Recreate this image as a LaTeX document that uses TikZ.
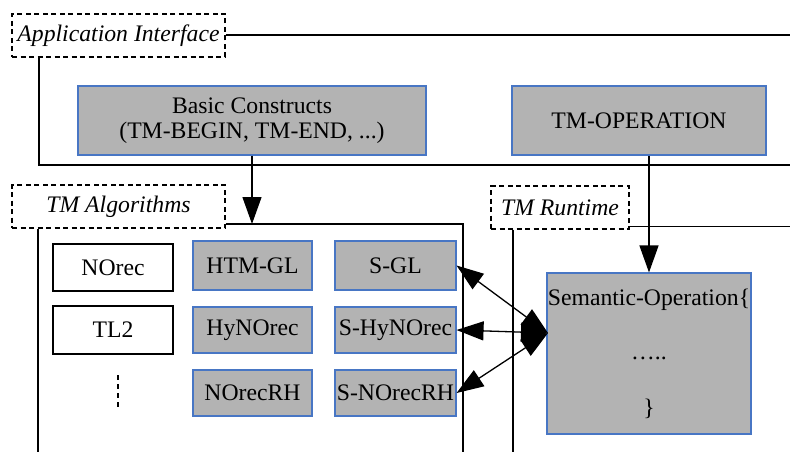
\documentclass[tikz,border=0pt]{standalone}
\usepackage{fontspec}
\setmainfont{Liberation Serif}
\usetikzlibrary{arrows.meta}
\definecolor{boxgray}{RGB}{179,179,179}
\definecolor{boxblue}{RGB}{72,118,196}
\newcommand{\diagfont}{\fontsize{23.7}{25}\selectfont}
\tikzset{
  frame/.style={line width=1.3pt, black},
  layer/.style={draw=black, line width=1.3pt, dash pattern=on 5pt off 3.5pt,
    fill=white, inner sep=0pt, font=\diagfont\itshape},
  comp/.style={draw=boxblue, line width=1.1pt, fill=boxgray, inner sep=0pt, align=center},
  algo/.style={draw=black, line width=1.3pt, fill=white, inner sep=0pt},
  arr/.style={line width=1.3pt, -{Triangle[length=27pt,width=19pt]}},
  darr/.style={line width=1.3pt, {Triangle[length=27pt,width=19pt]}-{Triangle[length=27pt,width=19pt]}},
}
\begin{document}
\begin{tikzpicture}[x=1pt, y=-1pt, font=\diagfont]
\useasboundingbox (0,0) rectangle (790,452);

% layer labels
\node[layer, minimum width=213pt, minimum height=43pt] (appif) at (118.5,35.5) {Application Interface};
\node[layer, minimum width=213pt, minimum height=43pt] (tmalg) at (118.5,206.5) {TM Algorithms};
\node[layer, minimum width=138pt, minimum height=43pt] (tmrt) at (560,207.5) {TM Runtime};

% frame corners
\coordinate (aiR) at (790,35);
\coordinate (aiL) at (39,165);
\coordinate (aiLR) at (790,165);
\coordinate (algTR) at (463,224);
\coordinate (algBR) at (463,452);
\coordinate (algBL) at (38,452);
\coordinate (rtTR) at (790,226.5);
\coordinate (rtBL) at (513,452);

% layer frames
\draw[frame] (appif.east |- aiR) -- (aiR);
\draw[frame] (appif.south -| aiL) -- (aiL) -- (aiLR);
\draw[frame] (tmalg.east |- algTR) -- (algTR) -- (algBR);
\draw[frame] (tmalg.south -| algBL) -- (algBL);
\draw[frame] (tmrt.east |- rtTR) -- (rtTR);
\draw[frame] (tmrt.south -| rtBL) -- (rtBL);

% interface components
\node[comp, minimum width=348pt, minimum height=69pt] (basic) at (252,120.5)
  {Basic Constructs\\(TM-BEGIN, TM-END, ...)};
\node[comp, minimum width=254pt, minimum height=69pt] (tmop) at (639,120.5) {TM-OPERATION};

% algorithms
\node[algo, minimum width=120pt, minimum height=47pt] (norec) at (113,267.5) {NOrec};
\node[algo, minimum width=120pt, minimum height=48pt] (tl2) at (113,330) {TL2};
\coordinate (dotsTop) at (118,375);
\coordinate (dotsBot) at (118,409);
\draw[line width=2.2pt, dash pattern=on 5pt off 4pt] (dotsTop) -- (dotsBot);

\node[comp, minimum width=119pt, minimum height=49pt] (htmgl) at (252.5,265.5) {HTM-GL};
\node[comp, minimum width=119pt, minimum height=46pt] (hynorec) at (252.5,330) {HyNOrec};
\node[comp, minimum width=119pt, minimum height=46pt] (norecrh) at (252.5,393) {NOrecRH};
\node[comp, minimum width=121pt, minimum height=49pt] (sgl) at (395.5,265.5) {S-GL};
\node[comp, minimum width=121pt, minimum height=46pt] (shynorec) at (395.5,330) {S-HyNOrec};
\node[comp, minimum width=121pt, minimum height=46pt] (snorecrh) at (395.5,393) {S-NOrecRH};

% runtime
\node[comp, minimum width=204pt, minimum height=161pt] (sem) at (649,353.5) {};
\node[inner sep=0pt] (semA) at (649,300) {Semantic-Operation\{};
\node[inner sep=0pt] (semB) at (649,358) {…..};
\node[inner sep=0pt] (semC) at (649,409) {\}};
\coordinate (semIn) at (548,333);

% connectors
\draw[arr] (basic.south) -- (basic.south |- algTR);
\draw[arr] (tmop.south -| sem.north) -- (sem.north);
\draw[darr] (sgl.east) -- (semIn);
\draw[darr] (shynorec.east) -- (semIn);
\draw[darr] (snorecrh.east) -- (semIn);
\end{tikzpicture}
\end{document}
